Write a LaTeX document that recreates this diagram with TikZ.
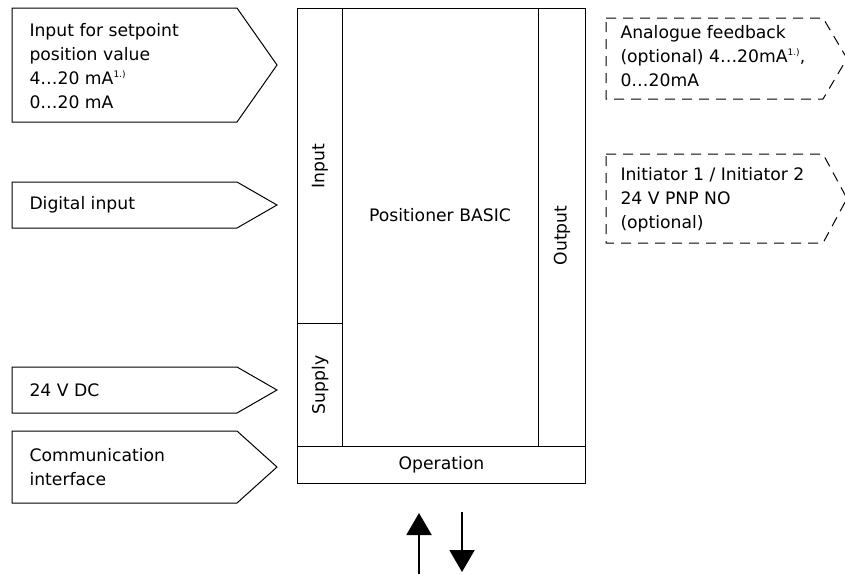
\documentclass[tikz,border=0pt]{standalone}
\usepackage{fontspec}
\setmainfont{DejaVu Sans}
\usetikzlibrary{arrows.meta}
\newcommand\supnote{{\fontsize{9}{9}\selectfont\raisebox{6.5pt}{1.)}}}
\begin{document}
\begin{tikzpicture}[x=1pt,y=-1pt,line width=1pt,
  lbl/.style={font=\fontsize{17.2}{24}\selectfont,inner sep=0pt},
  boxtext/.style={lbl,anchor=west,align=left},
  part/.style={draw,line width=1pt,anchor=north west,inner sep=0pt},
  optbox/.style={draw,dashed,dash pattern=on 10pt off 7pt,line width=1pt},
  flow/.style={line width=2pt,-{Triangle[width=25pt,length=22pt]}}]
\useasboundingbox (0,0) rectangle (845,574);
% main unit
\node[part,minimum width=45pt,minimum height=315pt] (inp) at (297,8) {};
\node[part,minimum width=45pt,minimum height=123pt] (sup) at (297,323) {};
\node[part,minimum width=196pt,minimum height=438pt] (core) at (342,8) {};
\node[part,minimum width=47pt,minimum height=438pt] (out) at (538,8) {};
\node[part,minimum width=288pt,minimum height=37pt] (op) at (297,446) {};
\node[lbl,rotate=90] (inpl) at (inp.center) {Input};
\node[lbl,rotate=90] (supl) at (sup.center) {Supply};
\node[lbl,rotate=90] (outl) at ([yshift=-8pt]out.center) {Output};
\node[lbl] (corel) at (440,215) {Positioner BASIC};
\node[lbl] (opl) at (op.center) {Operation};
% input signals
\draw (12,8) -- (237,8) -- (277,65) -- (237,122) -- (12,122) -- cycle;
\node[boxtext] (sp) at (29,66) {Input for setpoint\\position value\\4…20 mA\supnote\\0…20 mA};
\draw (12,182) -- (237,182) -- (277,205) -- (237,228) -- (12,228) -- cycle;
\node[boxtext] (di) at (29,205) {Digital input};
\draw (12,367) -- (237,367) -- (277,390) -- (237,413) -- (12,413) -- cycle;
\node[boxtext] (dc) at (29,390) {24 V DC};
\draw (12,431) -- (237,431) -- (277,467) -- (237,503) -- (12,503) -- cycle;
\node[boxtext] (ci) at (29,467) {Communication\\interface};
% optional outputs
\draw[optbox] (606,18) -- (823,18) -- (847,58.5) -- (823,99) -- (606,99) -- cycle;
\node[boxtext] (af) at (620,56) {Analogue feedback\\(optional) 4…20mA\supnote,\\0…20mA};
\draw[optbox] (606,154) -- (823,154) -- (847,198.5) -- (823,243) -- (606,243) -- cycle;
\node[boxtext] (ini) at (620,200) {Initiator 1 / Initiator 2\\24 V PNP NO\\(optional)};
% operation arrows
\coordinate (ua0) at (419,574);
\coordinate (ua1) at (419,513);
\coordinate (da0) at (462,512);
\coordinate (da1) at (462,572);
\draw[flow] (ua0) -- (ua1);
\draw[flow] (da0) -- (da1);
\end{tikzpicture}
\end{document}
